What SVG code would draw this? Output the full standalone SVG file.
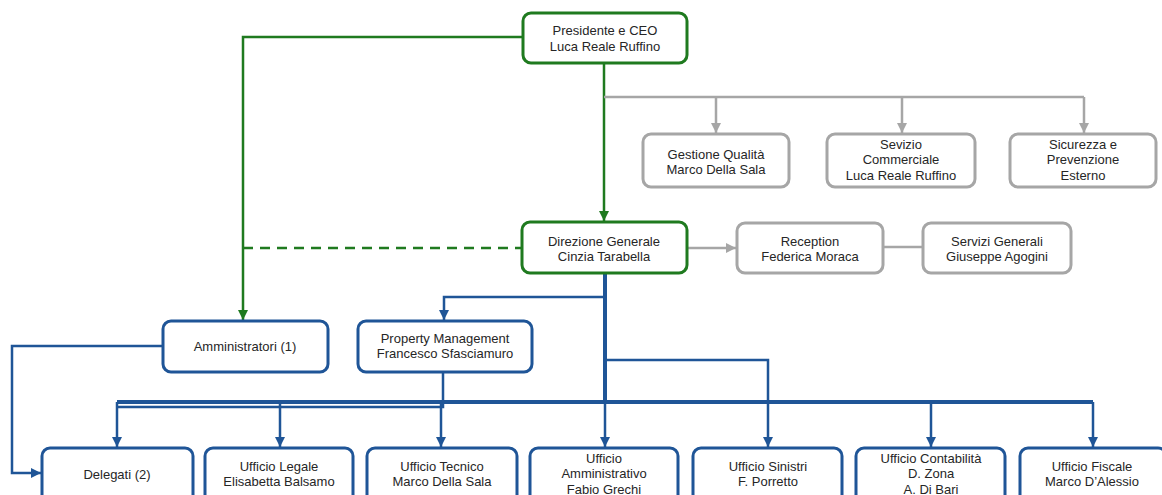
<svg xmlns="http://www.w3.org/2000/svg" width="1162" height="495" viewBox="0 0 1162 495">
<style>
.n rect{fill:#fff;stroke-width:3}
.g rect{stroke:#1f7a1f}
.gr rect{stroke:#a6a6a6}
.b rect{stroke:#1f5597}
text{font-family:"Liberation Sans",Arial,sans-serif;font-size:13px;fill:#262626;text-anchor:middle}
.cg{stroke:#1f7a1f;stroke-width:2.5;fill:none}
.cgr{stroke:#a6a6a6;stroke-width:2.5;fill:none}
.cb{stroke:#1f5597;stroke-width:2.5;fill:none}
.cbt{stroke:#1f5597;stroke-width:4;fill:none}
</style>
<defs>
<marker id="ag" markerUnits="userSpaceOnUse" markerWidth="12" markerHeight="12" refX="10" refY="6" orient="auto"><path d="M0,1 L10,6 L0,11 Z" fill="#1f7a1f"/></marker>
<marker id="agr" markerUnits="userSpaceOnUse" markerWidth="12" markerHeight="12" refX="10" refY="6" orient="auto"><path d="M0,1 L10,6 L0,11 Z" fill="#a6a6a6"/></marker>
<marker id="ab" markerUnits="userSpaceOnUse" markerWidth="12" markerHeight="12" refX="10" refY="6" orient="auto"><path d="M0,1 L10,6 L0,11 Z" fill="#1f5597"/></marker>
</defs>
<g id="connectors">
<path class="cg" d="M523,37 H243 V320" marker-end="url(#ag)"/>
<path class="cg" d="M604,63 V221" marker-end="url(#ag)"/>
<path class="cg" d="M243,248 H522" stroke-dasharray="10,7"/>
<path class="cgr" d="M604,97 H1084"/>
<path class="cgr" d="M716,97 V133" marker-end="url(#agr)"/>
<path class="cgr" d="M902,97 V133" marker-end="url(#agr)"/>
<path class="cgr" d="M1084,97 V133" marker-end="url(#agr)"/>
<path class="cgr" d="M687,248 H736" marker-end="url(#agr)"/>
<path class="cgr" d="M883,247 H923"/>
<path class="cbt" d="M605,273 V403"/>
<path class="cb" d="M605,403 V447" marker-end="url(#ab)"/>
<path class="cb" d="M605,297 H444 V320" marker-end="url(#ab)"/>
<path class="cb" d="M605,360 H768 V447" marker-end="url(#ab)"/>
<path class="cbt" d="M117,402 H1093"/>
<path class="cb" d="M443,372 V407 H117"/>
<path class="cb" d="M117,402 V447" marker-end="url(#ab)"/>
<path class="cb" d="M280,402 V447" marker-end="url(#ab)"/>
<path class="cb" d="M441,402 V447" marker-end="url(#ab)"/>
<path class="cb" d="M931,402 V447" marker-end="url(#ab)"/>
<path class="cb" d="M1093,402 V447" marker-end="url(#ab)"/>
<path class="cb" d="M163,346 H12 V473 H41" marker-end="url(#ab)"/>
</g>
<g id="presidente" class="n g"><rect x="523" y="13" width="164" height="50" rx="8"/><text x="605" y="34.5">Presidente e CEO</text><text x="605" y="50.5">Luca Reale Ruffino</text></g>
<g id="gestione" class="n gr"><rect x="643" y="134" width="146" height="53" rx="8"/><text x="716" y="158.5">Gestione Qualità</text><text x="716" y="173.5">Marco Della Sala</text></g>
<g id="commerciale" class="n gr"><rect x="827" y="134" width="148" height="53" rx="8"/><text x="901" y="148.5">Sevizio</text><text x="901" y="164">Commerciale</text><text x="901" y="179.5">Luca Reale Ruffino</text></g>
<g id="sicurezza" class="n gr"><rect x="1010" y="134" width="146" height="53" rx="8"/><text x="1083" y="148.5">Sicurezza e</text><text x="1083" y="164">Prevenzione</text><text x="1083" y="179.5">Esterno</text></g>
<g id="direzione" class="n g"><rect x="522" y="222" width="165" height="51" rx="8"/><text x="604" y="245.5">Direzione Generale</text><text x="604" y="260.5">Cinzia Tarabella</text></g>
<g id="reception" class="n gr"><rect x="737" y="223" width="146" height="50" rx="8"/><text x="810" y="245.5">Reception</text><text x="810" y="260.5">Federica Moraca</text></g>
<g id="servizi" class="n gr"><rect x="923" y="223" width="148" height="50" rx="8"/><text x="997" y="245.5">Servizi Generali</text><text x="997" y="260.5">Giuseppe Agogini</text></g>
<g id="amministratori" class="n b"><rect x="163" y="321" width="165" height="51" rx="8"/><text x="245" y="350.5">Amministratori (1)</text></g>
<g id="property" class="n b"><rect x="358" y="321" width="174" height="51" rx="8"/><text x="445" y="343">Property Management</text><text x="445" y="358">Francesco Sfasciamuro</text></g>
<g id="delegati" class="n b"><rect x="42" y="448" width="151" height="60" rx="8"/><text x="117" y="478.5">Delegati (2)</text></g>
<g id="legale" class="n b"><rect x="205" y="448" width="148" height="60" rx="8"/><text x="279" y="470.5">Ufficio Legale</text><text x="279" y="486">Elisabetta Balsamo</text></g>
<g id="tecnico" class="n b"><rect x="367" y="448" width="150" height="60" rx="8"/><text x="442" y="470.5">Ufficio Tecnico</text><text x="442" y="486">Marco Della Sala</text></g>
<g id="amministrativo" class="n b"><rect x="530" y="448" width="148" height="60" rx="8"/><text x="604" y="462.5">Ufficio</text><text x="604" y="478">Amministrativo</text><text x="604" y="493.5">Fabio Grechi</text></g>
<g id="sinistri" class="n b"><rect x="693" y="448" width="149" height="60" rx="8"/><text x="768" y="470.5">Ufficio Sinistri</text><text x="768" y="486">F. Porretto</text></g>
<g id="contabilita" class="n b"><rect x="856" y="448" width="149" height="60" rx="8"/><text x="931" y="462.5">Ufficio Contabilità</text><text x="931" y="478">D. Zona</text><text x="931" y="493.5">A. Di Bari</text></g>
<g id="fiscale" class="n b"><rect x="1020" y="448" width="146" height="60" rx="8"/><text x="1092" y="470.5">Ufficio Fiscale</text><text x="1092" y="486">Marco D’Alessio</text></g>
</svg>
